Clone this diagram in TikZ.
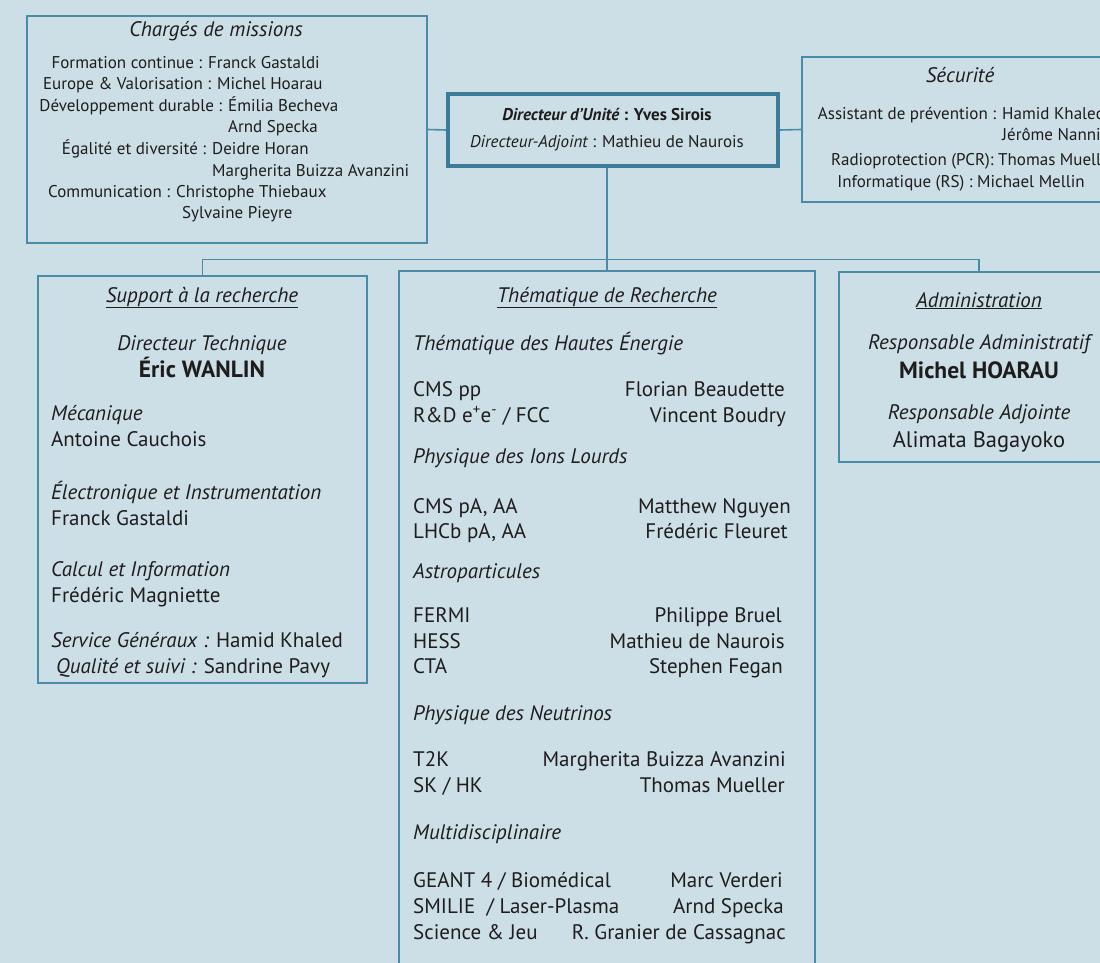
\documentclass[tikz,border=0pt]{standalone}
\usepackage{fontspec}
\setmainfont{PT Sans}
\definecolor{bg}{HTML}{CDDFE6}
\definecolor{ln}{HTML}{4A8BA7}
\definecolor{lnd}{HTML}{3A7C98}
\definecolor{tx}{HTML}{1E1C1D}
\begin{document}
\begin{tikzpicture}[x=1pt,y=-1pt,
  box/.style={draw=ln, line width=1.8pt, rectangle, inner sep=0pt},
  dirbox/.style={draw=lnd, line width=3.5pt, rectangle, inner sep=0pt},
  conn/.style={draw=ln, line width=1.6pt},
  sm/.style={font=\fontsize{17}{20}\selectfont, text=tx, inner sep=0pt},
  ttl/.style={font=\fontsize{21}{25}\selectfont\itshape, text=tx, inner sep=0pt},
  body/.style={font=\fontsize{21}{25}\selectfont, text=tx, inner sep=0pt},
  bodyit/.style={font=\fontsize{21}{25}\selectfont\itshape, text=tx, inner sep=0pt},
  sect/.style={font=\fontsize{21}{25}\selectfont\itshape, text=tx, inner sep=0pt},
  boss/.style={font=\fontsize{23.5}{28}\selectfont\bfseries, text=tx, inner sep=0pt}
]
\fill[bg] (0,0) rectangle (1100,963);
\useasboundingbox (0,0) rectangle (1100,963);
\clip (0,0) rectangle (1100,963);

% ---------- boxes ----------
\node[box, minimum width=400, minimum height=227] (charges) at (227,129.5) {};
\node[dirbox, minimum width=330, minimum height=72] (dir) at (613,130) {};
\node[box, minimum width=316, minimum height=145] (secu) at (960,129.5) {};
\node[box, minimum width=329, minimum height=407] (support) at (202.5,479.5) {};
\node[box, minimum width=416, minimum height=740] (them) at (607,641) {};
\node[box, minimum width=280, minimum height=190] (admin) at (979,367) {};
\coordinate (bus) at (606,259.5);

% ---------- connectors ----------
\draw[conn] (charges.east) -- (dir.west);
\draw[conn] (dir.east) -- (secu.west);
\draw[conn] (dir.south -| them.north) -- (them.north);
\draw[conn] (support.north) |- (bus) -| (admin.north);

% ---------- Chargés de missions ----------
\node[ttl, anchor=base] (chT) at (216,37) {Chargés de missions};
\node[sm, anchor=base west] (ch1) at (208,69) {\llap{Formation continue : }Franck Gastaldi};
\node[sm, anchor=base west] (ch2) at (217,90) {\llap{Europe \& Valorisation : }Michel Hoarau};
\node[sm, anchor=base west] (ch3) at (228,112) {\llap{Développement durable : }Émilia Becheva};
\node[sm, anchor=base west] (ch4) at (228,133) {Arnd Specka};
\node[sm, anchor=base west] (ch5) at (212,154) {\llap{Égalité et diversité : }Deidre Horan};
\node[sm, anchor=base west] (ch6) at (212,176) {Margherita Buizza Avanzini};
\node[sm, anchor=base west] (ch7) at (176,197) {\llap{Communication : }Christophe Thiebaux};
\node[sm, anchor=base west] (ch8) at (182,218) {Sylvaine Pieyre};

% ---------- Directeur ----------
\node[sm, anchor=base] (d1) at (607,121) {\bfseries{\itshape Directeur d’Unité} : Yves Sirois};
\node[sm, anchor=base] (d2) at (607,148) {{\itshape Directeur-Adjoint} : Mathieu de Naurois};

% ---------- Sécurité ----------
\node[ttl, anchor=base] (seT) at (960,83) {Sécurité};
\node[sm, anchor=base west] (se1) at (1002,120) {\llap{Assistant de prévention : }Hamid Khaled};
\node[sm, anchor=base west] (se2) at (1002,141) {Jérôme Nanni};
\node[sm, anchor=base west] (se3) at (998,165) {\llap{Radioprotection (PCR): }Thomas Mueller};
\node[sm, anchor=base west] (se4) at (977,187) {\llap{Informatique (RS) : }Michael Mellin};

% ---------- Support à la recherche ----------
\node[sect, anchor=base] (suT) at (202,302) {\underline{Support à la recherche}};
\node[bodyit, anchor=base] (su1) at (202,350) {Directeur Technique};
\node[boss, anchor=base] (su2) at (202,377) {Éric WANLIN};
\node[bodyit, anchor=base west] (su3) at (51,420) {Mécanique};
\node[body, anchor=base west] (su4) at (51,446) {Antoine Cauchois};
\node[bodyit, anchor=base west] (su5) at (51,499) {Électronique et Instrumentation};
\node[body, anchor=base west] (su6) at (51,525) {Franck Gastaldi};
\node[bodyit, anchor=base west] (su7) at (51,576) {Calcul et Information};
\node[body, anchor=base west] (su8) at (51,602) {Frédéric Magniette};
\node[body, anchor=base west] (su9) at (51,647) {{\itshape Service Généraux :} Hamid Khaled};
\node[body, anchor=base west] (su10) at (56,673) {{\itshape Qualité et suivi :} Sandrine Pavy};

% ---------- Thématique de Recherche ----------
\node[sect, anchor=base] (thT) at (607,302) {\underline{Thématique de Recherche}};
\node[bodyit, anchor=base west] (th1) at (413,350) {Thématique des Hautes Énergie};
\node[body, anchor=base west] (th2) at (413,396) {CMS pp};
\node[body, anchor=base east] (th2n) at (785,396) {Florian Beaudette};
\node[body, anchor=base west] (th3) at (413,422) {R\&D e\textsuperscript{+}e\textsuperscript{-} / FCC};
\node[body, anchor=base east] (th3n) at (786,422) {Vincent Boudry};
\node[bodyit, anchor=base west] (th4) at (413,463) {Physique des Ions Lourds};
\node[body, anchor=base west] (th5) at (413,513) {CMS pA, AA};
\node[body, anchor=base east] (th5n) at (791,513) {Matthew Nguyen};
\node[body, anchor=base west] (th6) at (413,538) {LHCb pA, AA};
\node[body, anchor=base east] (th6n) at (788,538) {Frédéric Fleuret};
\node[bodyit, anchor=base west] (th7) at (413,578) {Astroparticules};
\node[body, anchor=base west] (th8) at (413,622) {FERMI};
\node[body, anchor=base east] (th8n) at (782,622) {Philippe Bruel};
\node[body, anchor=base west] (th9) at (413,648) {HESS};
\node[body, anchor=base east] (th9n) at (785,648) {Mathieu de Naurois};
\node[body, anchor=base west] (th10) at (413,673) {CTA};
\node[body, anchor=base east] (th10n) at (783,673) {Stephen Fegan};
\node[bodyit, anchor=base west] (th11) at (413,720) {Physique des Neutrinos};
\node[body, anchor=base west] (th12) at (413,766) {T2K};
\node[body, anchor=base east] (th12n) at (786,766) {Margherita Buizza Avanzini};
\node[body, anchor=base west] (th13) at (413,792) {SK / HK};
\node[body, anchor=base east] (th13n) at (785,792) {Thomas Mueller};
\node[bodyit, anchor=base west] (th14) at (413,839) {Multidisciplinaire};
\node[body, anchor=base west] (th15) at (413,887) {GEANT 4 / Biomédical};
\node[body, anchor=base east] (th15n) at (783,887) {Marc Verderi};
\node[body, anchor=base west] (th16) at (413,913) {SMILIE\ \ / Laser-Plasma};
\node[body, anchor=base east] (th16n) at (784,913) {Arnd Specka};
\node[body, anchor=base west] (th17) at (413,939) {Science \& Jeu};
\node[body, anchor=base east] (th17n) at (786,939) {R. Granier de Cassagnac};

% ---------- Administration ----------
\node[sect, anchor=base] (adT) at (979,307) {\underline{Administration}};
\node[bodyit, anchor=base] (ad1) at (979,349) {Responsable Administratif};
\node[boss, anchor=base] (ad2) at (979,378) {Michel HOARAU};
\node[bodyit, anchor=base] (ad3) at (979,419) {Responsable Adjointe};
\node[body, anchor=base, font=\fontsize{22.5}{26}\selectfont] (ad4) at (979,447) {Alimata Bagayoko};
\end{tikzpicture}
\end{document}
